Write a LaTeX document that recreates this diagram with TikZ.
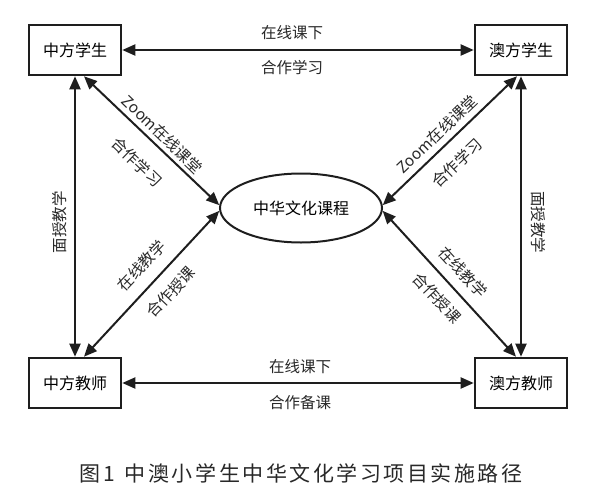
\documentclass[tikz,border=0pt]{standalone}
\usepackage{fontspec}
\setmainfont{Noto Sans CJK SC}
\usetikzlibrary{arrows.meta,shapes.geometric}

\tikzset{every picture/.style={line width=2pt}}
\tikzset{
	box/.style={draw={rgb, 255:red, 30; green, 30; blue, 30}, line width=2.6pt, minimum width=92, minimum height=50, inner sep=0pt, font=\fontsize{16}{19}\selectfont},
	link/.style={draw={rgb, 255:red, 30; green, 30; blue, 30}, line width=2pt, {Triangle[length=13pt,width=11pt]}-{Triangle[length=13pt,width=11pt]}},
	lbl/.style={inner sep=0pt, font=\fontsize{15.5}{18}\selectfont, text={rgb, 255:red, 40; green, 40; blue, 40}}}

\begin{document}
\begin{tikzpicture}[x=1pt,y=1pt,yscale=-1,xscale=1]
	\useasboundingbox (0,0) rectangle (600,490);

	%Shape: Rectangle
	\node [box] (zfxs) at (75,50) {中方学生};
	%Shape: Rectangle
	\node [box] (axxs) at (521,50) {澳方学生};
	%Shape: Rectangle
	\node [box] (zfjs) at (75,383) {中方教师};
	%Shape: Rectangle
	\node [box] (axjs) at (521,383) {澳方教师};
	%Shape: Ellipse
	\node [ellipse, draw={rgb, 255:red, 30; green, 30; blue, 30}, line width=2pt, minimum width=162, minimum height=69, inner sep=0pt, font=\fontsize{16}{19}\selectfont] (kc) at (301,208) {中华文化课程};

	%Arrows between the boxes
	\draw [link] (zfxs) -- (axxs);
	\draw [link] (zfjs) -- (axjs);
	\draw [link] (zfjs) -- (zfxs);
	\draw [link] (axxs) -- (axjs);
	%Arrows to the course
	\draw [link] ([xshift=9pt]zfxs.south) -- (kc.178);
	\draw [link] ([xshift=9pt]zfjs.north) -- (kc.182);
	\draw [link] (kc.2) -- ([xshift=-4pt]axxs.south);
	\draw [link] (kc.-2) -- ([xshift=-5pt]axjs.north);

	% Text Node
	\node [lbl] (t1) at (292,33) {在线课下};
	% Text Node
	\node [lbl] (t2) at (292,68) {合作学习};
	% Text Node
	\node [lbl] (t3) at (300,367) {在线课下};
	% Text Node
	\node [lbl] (t4) at (300,403) {合作备课};
	% Text Node
	\node [lbl, rotate=90] (t5) at (59.5,222) {面授教学};
	% Text Node
	\node [lbl, rotate=-90] (t6) at (538,222) {面授教学};
	% Text Node
	\node [lbl, rotate=-44] (t7) at (162.5,134.5) {Zoom在线课堂};
	% Text Node
	\node [lbl, rotate=-44] (t8) at (137,162) {合作学习};
	% Text Node
	\node [lbl, rotate=46.5] (t9) at (141.5,265.5) {在线教学};
	% Text Node
	\node [lbl, rotate=46.5] (t10) at (171,292) {合作授课};
	% Text Node
	\node [lbl, rotate=43.7] (t11) at (437,134) {Zoom在线课堂};
	% Text Node
	\node [lbl, rotate=43.7] (t12) at (457,163) {合作学习};
	% Text Node
	\node [lbl, rotate=-47.5] (t13) at (463,272) {在线教学};
	% Text Node
	\node [lbl, rotate=-47.5] (t14) at (437,298) {合作授课};

	% Text Node
	\node [inner sep=0pt, font=\fontsize{21}{24}\selectfont\addfontfeature{LetterSpace=12}, text={rgb, 255:red, 40; green, 40; blue, 40}] (cap) at (301,473) {图1\hspace{10pt}中澳小学生中华文化学习项目实施路径};
\end{tikzpicture}
\end{document}
